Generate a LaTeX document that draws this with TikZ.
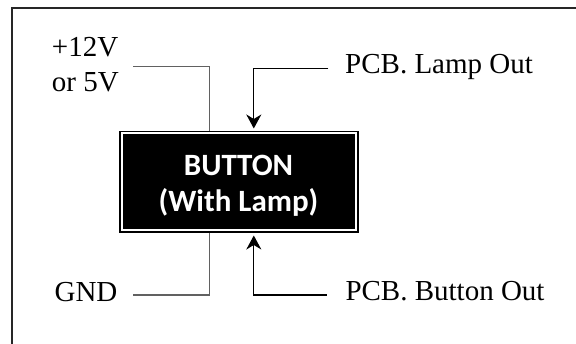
\documentclass[tikz,border=0pt]{standalone}
\usepackage{fontspec}
\setmainfont{Liberation Serif}
\newfontfamily\btnfont{Carlito}
\usetikzlibrary{arrows.meta}
\newcommand\lblfont{\fontsize{29}{34}\selectfont}
\begin{document}
\begin{tikzpicture}[x=1pt,y=-1pt,
  lbl/.style={font=\lblfont, inner sep=0pt, anchor=base west},
  frameline/.style={draw=black!85, line width=1.3pt},
  gline/.style={draw=black!62, line width=1.4pt},
  bline/.style={draw=black, line width=1.1pt},
  arr/.style={bline, -{Stealth[length=14pt,width=15pt,inset=4.5pt]}},
  boxstyle/.style={draw=black, line width=1.6pt, double=white, double distance=2pt,
    fill=black, minimum width=234.5pt, minimum height=97pt, inner sep=0pt},
  boxtext/.style={text=white, align=center, inner sep=0pt,
    font=\fontsize{31}{35.5}\selectfont\btnfont\bfseries}
]
\useasboundingbox (0,0) rectangle (576,344);
\fill[white] (0,0) rectangle (576,344);
% frame
\draw[frameline] (12,350) -- (12,8) -- (582,8);
% box
\node[boxstyle] (box) at (238.75,182) {};
\node[boxtext] (btext) at (238.5,185.8) {BUTTON\\(With Lamp)};
% labels
\node[lbl] (v12) at (51.7,57) {+12V};
\node[lbl] (v5) at (51.7,91.5) {or 5V};
\node[lbl] (gnd) at (54.4,302) {GND};
\node[lbl] (lamp) at (345,73.3) {PCB. Lamp Out};
\node[lbl] (bout) at (345.3,301) {PCB. Button Out};
% connector points
\coordinate (s12) at (133.3,66.7);
\coordinate (sg) at (133.3,295);
\coordinate (sl) at (328.3,68.3);
\coordinate (sb) at (326.5,295);
\coordinate (e12) at (209.4,131.5);
\coordinate (eg) at (209.4,233);
\coordinate (el) at (253.8,128.5);
\coordinate (eb) at (253.8,235.5);
% connectors
\draw[gline] (s12) -| (e12);
\draw[gline] (sg) -| (eg);
\draw[arr] (sl) -| (el);
\draw[arr] (sb) -| (eb);
\end{tikzpicture}
\end{document}
